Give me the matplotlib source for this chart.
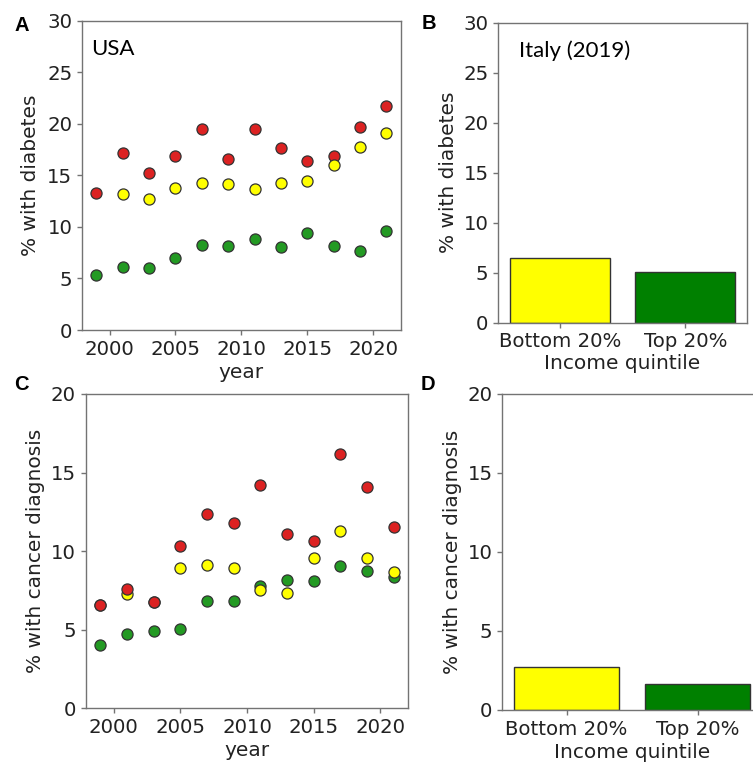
import matplotlib as mpl
mpl.use('Agg')
import matplotlib.pyplot as plt
import numpy as np

# survey years (USA panels)
years = [1999, 2001, 2003, 2005, 2007, 2009, 2011, 2013, 2015, 2017, 2019, 2021]

# % with diabetes, USA
diab_red = [13.3, 17.2, 15.2, 16.9, 19.5, 16.6, 19.5, 17.65, 16.4, 16.9, 19.7, 21.7]
diab_yellow = [np.nan, 13.2, 12.7, 13.8, 14.3, 14.2, 13.7, 14.3, 14.45, 16.0, 17.8, 19.1]
diab_green = [5.3, 6.15, 6.05, 6.95, 8.25, 8.15, 8.8, 8.05, 9.45, 8.15, 7.7, 9.6]

# % with cancer diagnosis, USA
canc_red = [6.6, 7.6, 6.75, 10.3, 12.35, 11.8, 14.2, 11.1, 10.65, 16.2, 14.05, 11.55]
canc_yellow = [6.6, 7.3, 6.75, 8.9, 9.1, 8.9, 7.5, 7.35, 9.55, 11.3, 9.55, 8.7]
canc_green = [4.05, 4.7, 4.9, 5.05, 6.85, 6.85, 7.8, 8.15, 8.1, 9.05, 8.75, 8.35]

# Italy 2019 by income quintile
quintiles = ['Bottom 20%', 'Top 20%']
italy_diab = [6.5, 5.05]
italy_canc = [2.7, 1.65]

RED = '#dc2222'
YEL = '#ffff00'
GRN = '#239a23'
SPINE = '0.45'
TXT = '#222222'
FS = 14.5

plt.rcParams['font.family'] = 'DejaVu Sans'
plt.rcParams['font.size'] = FS

fig = plt.figure(figsize=(7.53, 7.65), dpi=100)
axA = fig.add_axes([0.1089, 0.5686, 0.4232, 0.4043])
axB = fig.add_axes([0.6618, 0.5782, 0.3299, 0.3922])
axC = fig.add_axes([0.1138, 0.0741, 0.4284, 0.4109])
axD = fig.add_axes([0.6671, 0.0719, 0.3450, 0.4131])


def style(ax):
    for s in ax.spines.values():
        s.set_color(SPINE)
        s.set_linewidth(1.0)
    ax.tick_params(colors=SPINE, labelcolor=TXT, labelsize=14.2, width=1.0)


def dots(ax, y, c):
    ax.scatter(years, y, s=64, color=c, edgecolors='#333333', linewidths=0.9, zorder=3)


# A: diabetes over time
dots(axA, diab_green, GRN)
dots(axA, diab_red, RED)
dots(axA, diab_yellow, YEL)
axA.set_ylim(0, 30)
axA.set_xticks([2000, 2005, 2010, 2015, 2020])
axA.set_ylabel('% with diabetes', color=TXT, labelpad=5)
axA.set_xlabel('year', color=TXT, labelpad=3)
axA.text(0.028, 0.94, 'USA', transform=axA.transAxes, fontsize=16,
         family='Lato', va='top', ha='left', color='black')
style(axA)

# B: Italy diabetes by income
axB.bar(quintiles, italy_diab, color=[YEL, 'green'], edgecolor='#333333', linewidth=1.0, width=0.8)
axB.set_ylim(0, 30)
axB.set_ylabel('% with diabetes', color=TXT)
axB.set_xlabel('Income quintile', color=TXT, labelpad=2)
axB.text(0.085, 0.94, 'Italy (2019)', transform=axB.transAxes, fontsize=16,
         family='Lato', va='top', ha='left', color='black')
style(axB)

# C: cancer diagnosis over time
dots(axC, canc_green, GRN)
dots(axC, canc_yellow, YEL)
dots(axC, canc_red, RED)
axC.set_ylim(0, 20)
axC.set_yticks([0, 5, 10, 15, 20])
axC.set_xticks([2000, 2005, 2010, 2015, 2020])
axC.set_ylabel('% with cancer diagnosis', color=TXT)
axC.set_xlabel('year', color=TXT, labelpad=3)
style(axC)

# D: Italy cancer by income
axD.bar(quintiles, italy_canc, color=[YEL, 'green'], edgecolor='#333333', linewidth=1.0, width=0.8)
axD.set_ylim(0, 20)
axD.set_yticks([0, 5, 10, 15, 20])
axD.set_ylabel('% with cancer diagnosis', color=TXT)
axD.set_xlabel('Income quintile', color=TXT, labelpad=3)
style(axD)

# panel letters
for lbl, x, y in [('A', 0.029, 0.967), ('B', 0.57, 0.969), ('C', 0.029, 0.497), ('D', 0.568, 0.497)]:
    fig.text(x, y, lbl, fontsize=14.5, fontweight='bold', family='Liberation Sans',
             ha='center', va='center')

fig.savefig('out.png', dpi=100)
